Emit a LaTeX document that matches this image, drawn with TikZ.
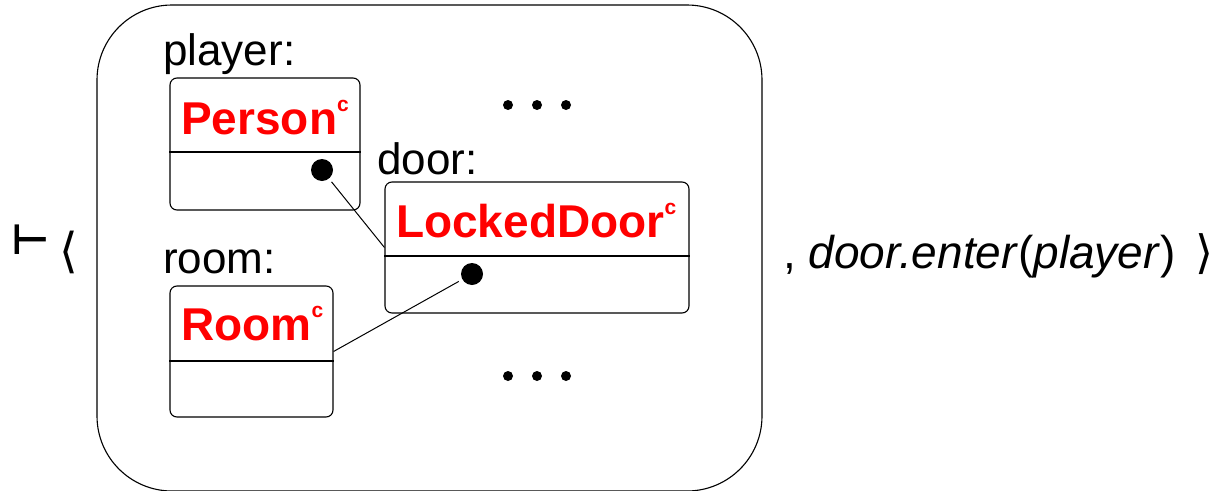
\documentclass[tikz,border=0pt]{standalone}
\usepackage{fontspec}
\setmainfont{Liberation Sans}
\newfontfamily\symfont{DejaVu Sans}
\begin{document}
\begin{tikzpicture}[x=1pt,y=-1pt,
  lbl/.style={font=\fontsize{44}{48}\selectfont, anchor=base west, inner sep=0pt},
  cls/.style={font=\fontsize{46}{50}\selectfont\bfseries, text=red, anchor=base west, inner sep=0pt},
  objbox/.style={draw, rounded corners=7pt, line width=1.1pt, inner sep=0pt},
  slot/.style={circle, fill=black, inner sep=0pt, minimum size=22pt},
  elip/.style={circle, fill=black, inner sep=0pt, minimum size=10pt},
  link/.style={line width=1pt}]
\useasboundingbox (0,0) rectangle (1228,490);
% outer frame
\node[draw, rounded corners=75pt, line width=1.1pt, minimum width=665pt, minimum height=486pt, inner sep=0pt] (frame) at (429.5,248) {};
% left symbols
\node[inner sep=0pt, font=\fontsize{42}{44}\selectfont\symfont\bfseries] (vd) at (31,240) {⊢};
\node[inner sep=0pt, font=\fontsize{48}{50}\selectfont\symfont] (la) at (69,252) {⟨};
% labels
\node[lbl] (lplayer) at (163,65) {player:};
\node[lbl] (ldoor) at (377,174) {door:};
\node[lbl] (lroom) at (163,273) {room:};
% boxes
\node[objbox, minimum width=190pt, minimum height=132pt] (person) at (265,144) {};
\node[objbox, minimum width=304pt, minimum height=131pt] (locked) at (537,247.5) {};
\node[objbox, minimum width=163pt, minimum height=131pt] (room) at (251.5,351.5) {};
\draw[line width=1.1pt] (person.west |- 0,152) -- (person.east |- 0,152);
\draw[line width=1.1pt] (locked.west |- 0,256) -- (locked.east |- 0,256);
\draw[line width=1.1pt] (room.west |- 0,361) -- (room.east |- 0,361);
% class names
\node[cls] (tperson) at (181,134) {Person\raisebox{0.5em}{\fontsize{21}{21}\selectfont c}};
\node[cls] (tlocked) at (396,237) {LockedDoor\raisebox{0.5em}{\fontsize{21}{21}\selectfont c}};
\node[cls] (troom) at (181,340) {Room\raisebox{0.5em}{\fontsize{21}{21}\selectfont c}};
% slots
\node[slot] (pdot) at (322,170) {};
\node[slot] (ldot) at (472,274) {};
\draw[link, shorten <=4pt] (pdot) -- (locked.west);
\draw[link, shorten <=4pt] (ldot) -- (room.east);
% ellipses
\node[elip] (e1) at (508,105) {};
\node[elip] (e2) at (537,105) {};
\node[elip] (e3) at (566,105) {};
\node[elip] (e4) at (508,376) {};
\node[elip] (e5) at (537,376) {};
\node[elip] (e6) at (566,376) {};
% right text
\node[lbl, font=\fontsize{46}{50}\selectfont] (rt) at (783,268) {, \textit{door.enter}(\textit{player})\hspace{20pt}{\symfont ⟩}};
\end{tikzpicture}
\end{document}
